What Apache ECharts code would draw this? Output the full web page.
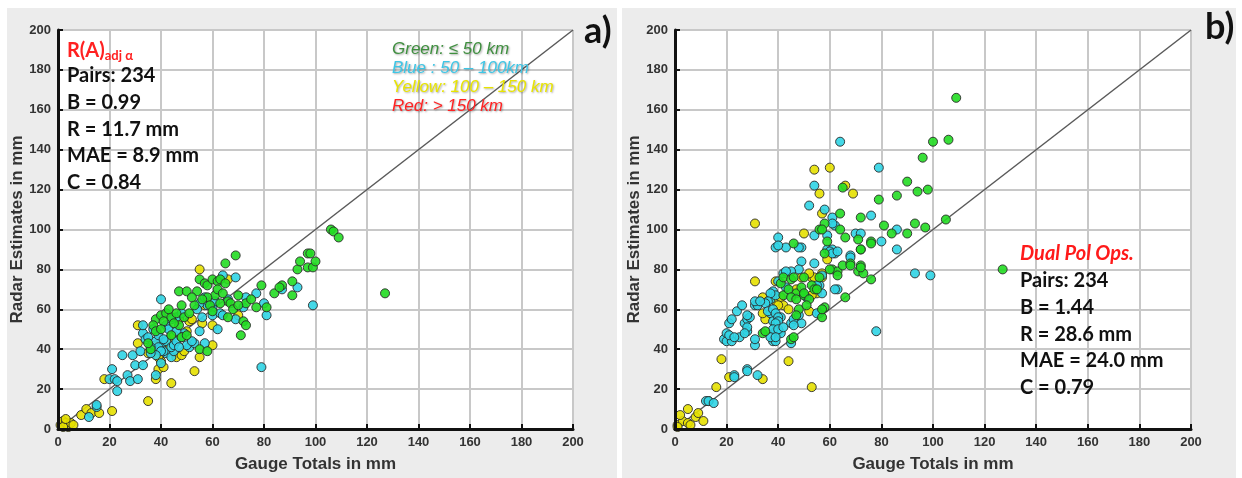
<!DOCTYPE html>
<html>
<head>
    <meta charset="utf-8">
    <title>Radar vs Gauge</title>
    <script src="https://cdn.jsdelivr.net/npm/echarts/dist/echarts.min.js"></script>
    <style>
        html, body { margin: 0; padding: 0; background: #ffffff; }
        #chart { width: 1242px; height: 478px; }
    </style>
</head>
<body>
<div id="chart"></div>
<script type="text/javascript">
    // 坐标轴刻度
    var axisTicks = [0, 20, 40, 60, 80, 100, 120, 140, 160, 180, 200];
    var oneToOne = [[0, 0], [200, 200]];

    // a) R(A) adj alpha  -- [gauge, radar]
    var aGreen = [[38,55],[40,57],[37,52],[38,49],[42,58],[44,56],[46,58],[47,52],[49,56],[48,46],[47,69],[50,69],[50,47],
        [55,75],[57,73],[58,72],[54,69],[60,75],[62,74],[63,75],[65,83],[69,87],[65,73],[61,67],[58,66],[55,40],[58,39],
        [66,56],[66,64],[70,67],[71,47],[72,54],[73,63],[73,52],[77,61],[79,72],[81,61],[84,68],[87,72],[91,74],[91,67],
        [93,80],[94,84],[97,88],[98,88],[97,81],[99,81],[100,84],[106,100],[107,99],[109,96],[127,68],[36,40],[41,54],
        [43,60],[45,53],[51,58],[53,62],[56,65],[59,62],[62,70],[64,68],[67,63],[68,60],[44,47],[40,50],[35,43],[52,66],
        [48,62],[60,59],[63,63],[70,62],[75,65],[86,71]];
    var aBlue = [[12,6],[15,11],[15,12],[23,19],[21,30],[20,25],[22,25],[23,24],[25,37],[27,27],[28,24],[29,37],[30,32],
        [31,25],[32,39],[33,48],[34,45],[33,52],[33,32],[40,65],[38,27],[40,33],[40,41],[42,52],[42,38],[44,36],[45,39],
        [46,56],[48,58],[49,48],[51,41],[53,43],[50,42],[55,49],[56,56],[57,43],[58,62],[60,61],[60,57],[62,50],[63,58],
        [64,57],[64,77],[69,76],[69,55],[72,61],[73,66],[77,68],[79,31],[80,63],[81,57],[87,70],[93,71],[99,62],[38,44],
        [39,47],[41,39],[42,44],[43,50],[44,41],[45,42],[46,44],[39,41],[40,39],[36,41],[37,50],[38,37],[41,45],[47,41],
        [55,63],[57,66],[61,64],[66,65],[36,38],[35,46],[48,46],[52,44],[54,60],[44,55],[46,49]];
    var aYellow = [[1,2],[2,4],[3,3],[4,1],[5,3],[6,2],[2,1],[3,5],[9,7],[11,10],[13,8],[16,8],[21,9],[18,25],[35,14],
        [31,52],[31,43],[35,38],[38,25],[44,23],[39,30],[53,29],[55,36],[55,80],[60,42],[60,52],[56,53],[66,75],[70,57],
        [51,54],[50,49],[41,43],[38,42],[46,36],[40,34],[48,37],[49,39],[40,38],[42,40],[39,36],[43,45],[45,47],[52,55],
        [57,62],[58,64],[47,55],[37,40],[41,31]];
    var aRed = [];

    // b) Dual Pol Ops.
    var bGreen = [[34,48],[41,73],[42,76],[45,75],[45,45],[47,68],[49,71],[50,67],[48,60],[53,72],[54,70],[57,56],[58,61],
        [56,76],[59,94],[61,80],[63,79],[65,82],[66,66],[68,83],[71,79],[73,78],[72,90],[76,94],[72,82],[46,93],[56,100],
        [58,103],[109,166],[106,145],[100,144],[96,136],[98,120],[105,105],[97,101],[127,80],[90,124],[94,119],[86,117],
        [79,115],[65,121],[72,106],[64,108],[64,100],[66,96],[71,95],[81,102],[84,98],[90,98],[93,103],[76,93],[72,90],
        [68,82],[72,81],[63,77],[57,60],[42,67],[44,70],[45,66],[47,65],[50,68],[52,65],[55,70],[51,62],[47,57],[46,46],
        [35,49],[46,76],[50,76],[57,100],[76,75],[58,88],[60,80]];
    var bBlue = [[12,14],[13,14],[15,13],[19,45],[20,44],[22,44],[21,53],[23,27],[24,59],[25,46],[27,53],[28,55],[28,49],
        [28,30],[31,42],[32,27],[31,62],[32,62],[37,65],[37,58],[38,54],[38,44],[39,44],[39,49],[40,49],[41,56],[41,48],
        [39,91],[43,91],[49,91],[49,84],[48,80],[45,43],[45,53],[46,55],[49,53],[51,66],[54,83],[56,58],[57,68],[56,72],
        [57,77],[59,90],[61,90],[62,88],[63,70],[68,87],[80,94],[86,90],[93,78],[99,77],[78,49],[40,96],[40,92],[48,91],
        [54,122],[52,112],[54,97],[64,144],[79,131],[58,110],[61,106],[62,102],[70,98],[72,98],[76,107],[86,100],[61,103],
        [59,97],[60,89],[61,88],[63,89],[68,86],[62,70],[45,79],[42,78],[43,79],[40,74],[43,71],[38,69],[39,67],[37,68],
        [36,64],[35,63],[31,64],[33,64],[36,59],[38,60],[39,58],[40,56],[40,54],[39,53],[38,50],[40,50],[42,51],[37,46],
        [39,46],[46,52],[55,58],[31,45],[28,51],[27,48],[29,56],[28,57],[26,62],[22,55],[20,48],[21,47],[23,46],[28,29],
        [23,26],[55,72],[48,57]];
    var bYellow = [[1,2],[3,4],[2,7],[5,3],[6,2],[8,6],[5,10],[11,4],[9,8],[1,1],[16,21],[18,35],[21,26],[31,74],[34,66],
        [34,25],[35,55],[44,34],[53,21],[39,64],[41,66],[42,62],[49,76],[53,76],[55,68],[57,78],[59,85],[54,130],[60,131],
        [56,118],[31,103],[50,98],[66,122],[69,118],[39,74],[34,58],[47,70],[52,59],[53,67],[57,76],[54,76],[52,78],[13,14],
        [57,108],[40,62],[44,60]];
    var bRed = [];

    var GREEN = '#22dc22', BLUE = '#30d4e4', YELLOW = '#e6e000', RED = '#ff1a1a';

    // 网格线单独放在一组隐藏坐标轴上，这样黑色坐标轴会画在网格线上面
    function gridAxis(idx) {
        return {
            type: 'value', gridIndex: idx, min: 0, max: 200, interval: 20, z: 0,
            axisLine: { show: false }, axisTick: { show: false }, axisLabel: { show: false },
            splitLine: { show: true, lineStyle: { color: '#c8c8c8', width: 2 } }
        };
    }

    function mkAxis(idx, name, isY) {
        return {
            type: 'value', gridIndex: idx, min: 0, max: 200, interval: 20, z: 5,
            name: name, nameLocation: 'middle', nameGap: isY ? 30 : 27,
            nameTextStyle: { fontFamily: 'Liberation Sans', fontWeight: 'bold', fontSize: 17, color: '#333' },
            axisLine: { show: true, onZero: false, lineStyle: { color: '#111', width: 3 } },
            axisTick: { show: true, inside: true, length: 5, lineStyle: { color: '#111', width: 2 } },
            axisLabel: { margin: 7, fontFamily: 'Liberation Sans', fontWeight: 'bold', fontSize: 13, color: '#333' },
            splitLine: { show: false }
        };
    }

    function dots(idx, data, color) {
        return {
            type: 'scatter', xAxisIndex: idx, yAxisIndex: idx, data: data, symbolSize: 9, z: 3,
            itemStyle: { color: color, borderColor: '#2a2a2a', borderWidth: 1, opacity: 0.9 }
        };
    }

    function diag(idx) {
        return {
            type: 'line', xAxisIndex: idx, yAxisIndex: idx, data: oneToOne, symbol: 'none', z: 2,
            lineStyle: { color: '#5a5a5a', width: 1.5 }, silent: true
        };
    }

    var statFont = { fontFamily: 'Lato', fontWeight: 'bold', fontSize: 20, fill: '#111' };

    function statText(x, y, lines) {
        return lines.map(function (t, i) {
            return { type: 'text', z: 100, left: x, top: y + i * 26.6, style: Object.assign({ text: t }, statFont) };
        });
    }

    function legText(y, t, c) {
        return { type: 'text', z: 100, left: 392, top: y, style: {
            text: t, fill: c, fontFamily: 'Liberation Sans', fontStyle: 'italic', fontSize: 17,
            textShadowColor: 'rgba(0,0,0,0.35)', textShadowBlur: 2, textShadowOffsetX: 1, textShadowOffsetY: 1 } };
    }

    var chart = echarts.init(document.getElementById('chart'));

    var graphics = [
        { type: 'rect', left: 7, top: 8, shape: { width: 610, height: 470 }, style: { fill: '#ececec' }, z: -100 },
        { type: 'rect', left: 622, top: 8, shape: { width: 614, height: 470 }, style: { fill: '#ececec' }, z: -100 },
        { type: 'text', z: 100, left: 584, top: 13, style: { text: 'a)', fontFamily: 'Lato', fontWeight: 'bold', fontSize: 36, fill: '#111' } },
        { type: 'text', z: 100, left: 1205, top: 9, style: { text: 'b)', fontFamily: 'Lato', fontWeight: 'bold', fontSize: 36, fill: '#111' } },
        { type: 'text', z: 100, left: 67, top: 41, style: {
            text: '{m|R(A)}{s|adj α}',
            rich: {
                m: { fontFamily: 'Lato', fontWeight: 'bold', fontSize: 20, fill: '#ff2020', color: '#ff2020' },
                s: { fontFamily: 'Lato', fontWeight: 'bold', fontSize: 13, fill: '#ff2020', color: '#ff2020', padding: [10, 0, 0, 0] }
            } } },
        { type: 'text', z: 100, left: 1020, top: 244, style: { text: 'Dual Pol Ops.', fontFamily: 'Lato', fontWeight: 'bold',
            fontStyle: 'italic', fontSize: 20, fill: '#ff1a1a' } },
        legText(41, 'Green: ≤ 50 km', '#3f8f3f'),
        legText(60, 'Blue : 50 – 100km', '#3ec6e6'),
        legText(79, 'Yellow: 100 – 150 km', '#e8e400'),
        legText(98, 'Red: > 150 km', '#ff2222')
    ].concat(statText(67, 66, ['Pairs: 234', 'B = 0.99', 'R = 11.7 mm', 'MAE = 8.9 mm', 'C = 0.84']))
     .concat(statText(1020, 271, ['Pairs: 234', 'B = 1.44', 'R = 28.6 mm', 'MAE = 24.0 mm', 'C = 0.79']));

    chart.setOption({
        animation: false,
        backgroundColor: '#ffffff',
        grid: [
            { left: 58, top: 30, width: 515, height: 407, show: true, backgroundColor: '#ffffff', borderWidth: 0 },
            { left: 675, top: 30, width: 516, height: 407, show: true, backgroundColor: '#ffffff', borderWidth: 0 }
        ],
        xAxis: [mkAxis(0, 'Gauge Totals in mm', false), mkAxis(1, 'Gauge Totals in mm', false), gridAxis(0), gridAxis(1)],
        yAxis: [mkAxis(0, 'Radar Estimates in mm', true), mkAxis(1, 'Radar Estimates in mm', true), gridAxis(0), gridAxis(1)],
        graphic: graphics,
        series: [
            diag(0), dots(0, aYellow, YELLOW), dots(0, aBlue, BLUE), dots(0, aGreen, GREEN), dots(0, aRed, RED),
            diag(1), dots(1, bYellow, YELLOW), dots(1, bBlue, BLUE), dots(1, bGreen, GREEN), dots(1, bRed, RED)
        ]
    });
</script>
</body>
</html>
